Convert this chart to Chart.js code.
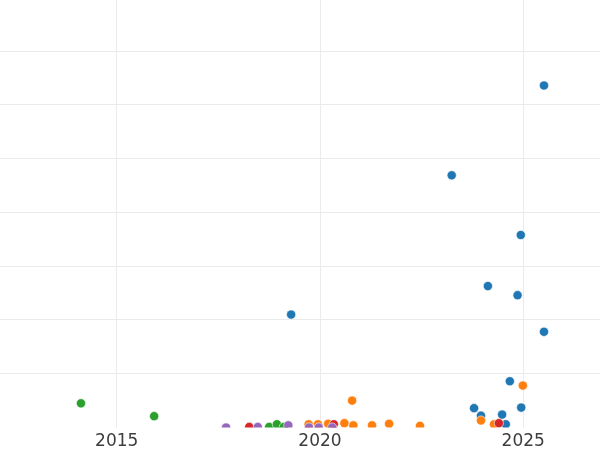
<!DOCTYPE html>
<html>
<head>
<meta charset="utf-8">
<script src="https://cdn.jsdelivr.net/npm/chart.js@4/dist/chart.umd.min.js"></script>
<style>
  html, body { margin: 0; padding: 0; background: #ffffff; }
  #c { display: block; }
</style>
</head>
<body>
<canvas id="c" width="600" height="450"></canvas>
<script>
// ---- data ----
const xTickLabels = [2015, 2020, 2025];
const yGridValues = [100, 200, 300, 400, 500, 600, 700];

const blueX = [2025.51, 2023.24, 2024.94, 2024.13, 2024.86, 2019.29, 2025.51, 2024.67, 2023.79, 2023.96, 2024.48, 2024.95, 2024.57];
const blueY = [636, 469, 358, 263, 246, 210, 178, 86, 36, 22, 24, 37, 6];

const orangeX = [2020.79, 2024.99, 2023.96, 2024.28, 2022.46, 2021.70, 2021.28, 2020.82, 2020.60, 2020.20, 2019.95, 2019.72];
const orangeY = [50, 78, 13, 6, 3, 7, 4, 4, 8, 7, 6, 6];

const greenX = [2014.12, 2015.92, 2018.75, 2018.94, 2019.11];
const greenY = [45, 21, 1, 6, 1];

const redX = [2018.26, 2020.34, 2024.40];
const redY = [1, 6, 8];

const purpleX = [2017.69, 2018.47, 2019.22, 2019.73, 2019.97, 2020.30];
const purpleY = [0, 1, 4, 0, 0, 0];

const seriesColors = ['#1f77b4', '#ff7f0e', '#2ca02c', '#d62728', '#9467bd'];

function pts(xs, ys) { return xs.map((x, i) => ({ x: x, y: ys[i] })); }

const seriesData = [
  pts(blueX, blueY),
  pts(orangeX, orangeY),
  pts(greenX, greenY),
  pts(redX, redY),
  pts(purpleX, purpleY)
];

const datasets = seriesData.map((d, i) => ({
  data: d,
  backgroundColor: seriesColors[i],
  borderColor: '#ffffff',
  borderWidth: 0.6,
  pointRadius: 4.6,
  pointHoverRadius: 4.6,
  clip: 0,
  order: -i
}));

new Chart(document.getElementById('c'), {
  type: 'scatter',
  data: { datasets: datasets },
  options: {
    responsive: false,
    animation: false,
    layout: { padding: 0, autoPadding: false },
    plugins: { legend: { display: false }, tooltip: { enabled: false } },
    scales: {
      x: {
        type: 'linear',
        min: 2012.128,
        max: 2026.888,
        afterBuildTicks: (scale) => { scale.ticks = xTickLabels.map(v => ({ value: v })); },
        afterFit: (scale) => { scale.height = 22.5; },
        grid: { color: '#ebebeb', lineWidth: 1, drawTicks: false },
        border: { display: false },
        ticks: {
          padding: 6,
          color: '#3d3d3d',
          font: { family: 'DejaVu Sans', size: 17, lineHeight: 0.9 },
          callback: (v) => String(v)
        }
      },
      y: {
        type: 'linear',
        min: 0,
        max: 795,
        afterBuildTicks: (scale) => { scale.ticks = yGridValues.map(v => ({ value: v })); },
        ticks: { display: false },
        grid: { drawTicks: false, lineWidth: 1, color: '#ebebeb' },
        border: { display: false }
      }
    }
  }
});
</script>
</body>
</html>
